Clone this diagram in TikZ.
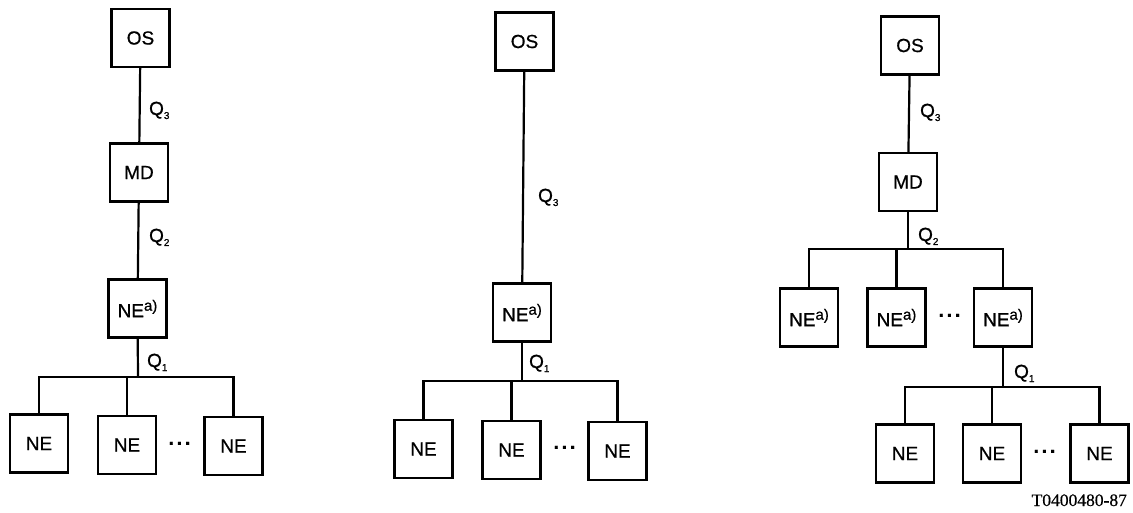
\documentclass[tikz,border=0pt]{standalone}
\usepackage{fontspec}
\setmainfont{Liberation Sans}[FakeBold=0.7]
\newfontfamily\labelfont{Liberation Serif}[FakeBold=0.5]
\newcommand{\mydots}{\textbf{\char"00B7\hspace{1.5pt}\char"00B7\hspace{1.5pt}\char"00B7}}
\newcommand{\supa}{\raisebox{6.5pt}{\fontsize{15}{16}\selectfont a)}}
\newcommand{\subq}[1]{\raisebox{-4pt}{\fontsize{10}{11}\selectfont #1}}
\begin{document}
\begin{tikzpicture}[x=1pt,y=-1pt,line width=2.2pt,
  box/.style={draw,line width=2.2pt,minimum width=58pt,minimum height=58pt,inner sep=0pt,font=\fontsize{19}{21}\selectfont},
  qlab/.style={anchor=base west,inner sep=0pt,font=\fontsize{19}{21}\selectfont},
  ellip/.style={inner sep=0pt,font=\fontsize{20}{22}\selectfont}]
\useasboundingbox (0,0) rectangle (1133,513);
% ---------- left ----------
\node[box] (os1) at (140.5,38) {OS};
\node[box] (md1) at (139,172.5) {MD};
\node[box] (nea1) at (137.5,308.5) {NE\supa};
\node[box] (n11) at (39,443.5) {NE};
\node[box] (n12) at (127,445) {NE};
\node[box] (n13) at (233.5,446) {NE};
\node[ellip] (d1) at (180,446) {\mydots};
\coordinate (b1) at (138,377);
\draw (os1) -- (md1);
\draw (md1) -- (nea1);
\draw (nea1) -- (b1);
\draw (n11.north) |- (b1) -| (n13.north);
\draw (n12.north) -- (n12.north |- b1);
\node[qlab] (q13) at (148,115) {Q\subq{3}};
\node[qlab] (q12) at (148,242) {Q\subq{2}};
\node[qlab] (q11) at (146,367) {Q\subq{1}};
% ---------- middle ----------
\node[box] (os2) at (524.5,41.5) {OS};
\node[box] (nea2) at (522,312.5) {NE\supa};
\node[box] (n21) at (423.5,449) {NE};
\node[box] (n22) at (511.5,450) {NE};
\node[box] (n23) at (617.5,451) {NE};
\node[ellip] (d2) at (565,450) {\mydots};
\coordinate (b2) at (522,381);
\draw (os2) -- (nea2);
\draw (nea2) -- (b2);
\draw (n21.north) |- (b2) -| (n23.north);
\draw (n22.north) -- (n22.north |- b2);
\node[qlab] (q23) at (537,202) {Q\subq{3}};
\node[qlab] (q21) at (528,368) {Q\subq{1}};
% ---------- right ----------
\node[box] (os3) at (910,45.5) {OS};
\node[box] (md3) at (908,182) {MD};
\node[box] (a31) at (809,317.5) {NE\supa};
\node[box] (a32) at (896.5,317.5) {NE\supa};
\node[box] (a33) at (1003,317.5) {NE\supa};
\node[ellip] (d3) at (950,318) {\mydots};
\coordinate (b3) at (908,249);
\draw (os3) -- (md3);
\draw (md3) -- (b3);
\draw (a31.north) |- (b3) -| (a33.north);
\draw (a32.north) -- (a32.north |- b3);
\node[box] (n31) at (905,453.5) {NE};
\node[box] (n32) at (992,453.5) {NE};
\node[box] (n33) at (1099.5,453.5) {NE};
\node[ellip] (d4) at (1045,454) {\mydots};
\coordinate (b4) at (1003,387);
\draw (a33) -- (b4);
\draw (n31.north) |- (b4) -| (n33.north);
\draw (n32.north) -- (n32.north |- b4);
\node[qlab] (q33) at (919,117) {Q\subq{3}};
\node[qlab] (q32) at (917,241) {Q\subq{2}};
\node[qlab] (q31) at (1013,378) {Q\subq{1}};
% ---------- figure label ----------
\node[anchor=base east,inner sep=0pt,font=\labelfont\fontsize{17.5}{20}\selectfont] (tl) at (1128,506) {T0400480-87};
\end{tikzpicture}
\end{document}
